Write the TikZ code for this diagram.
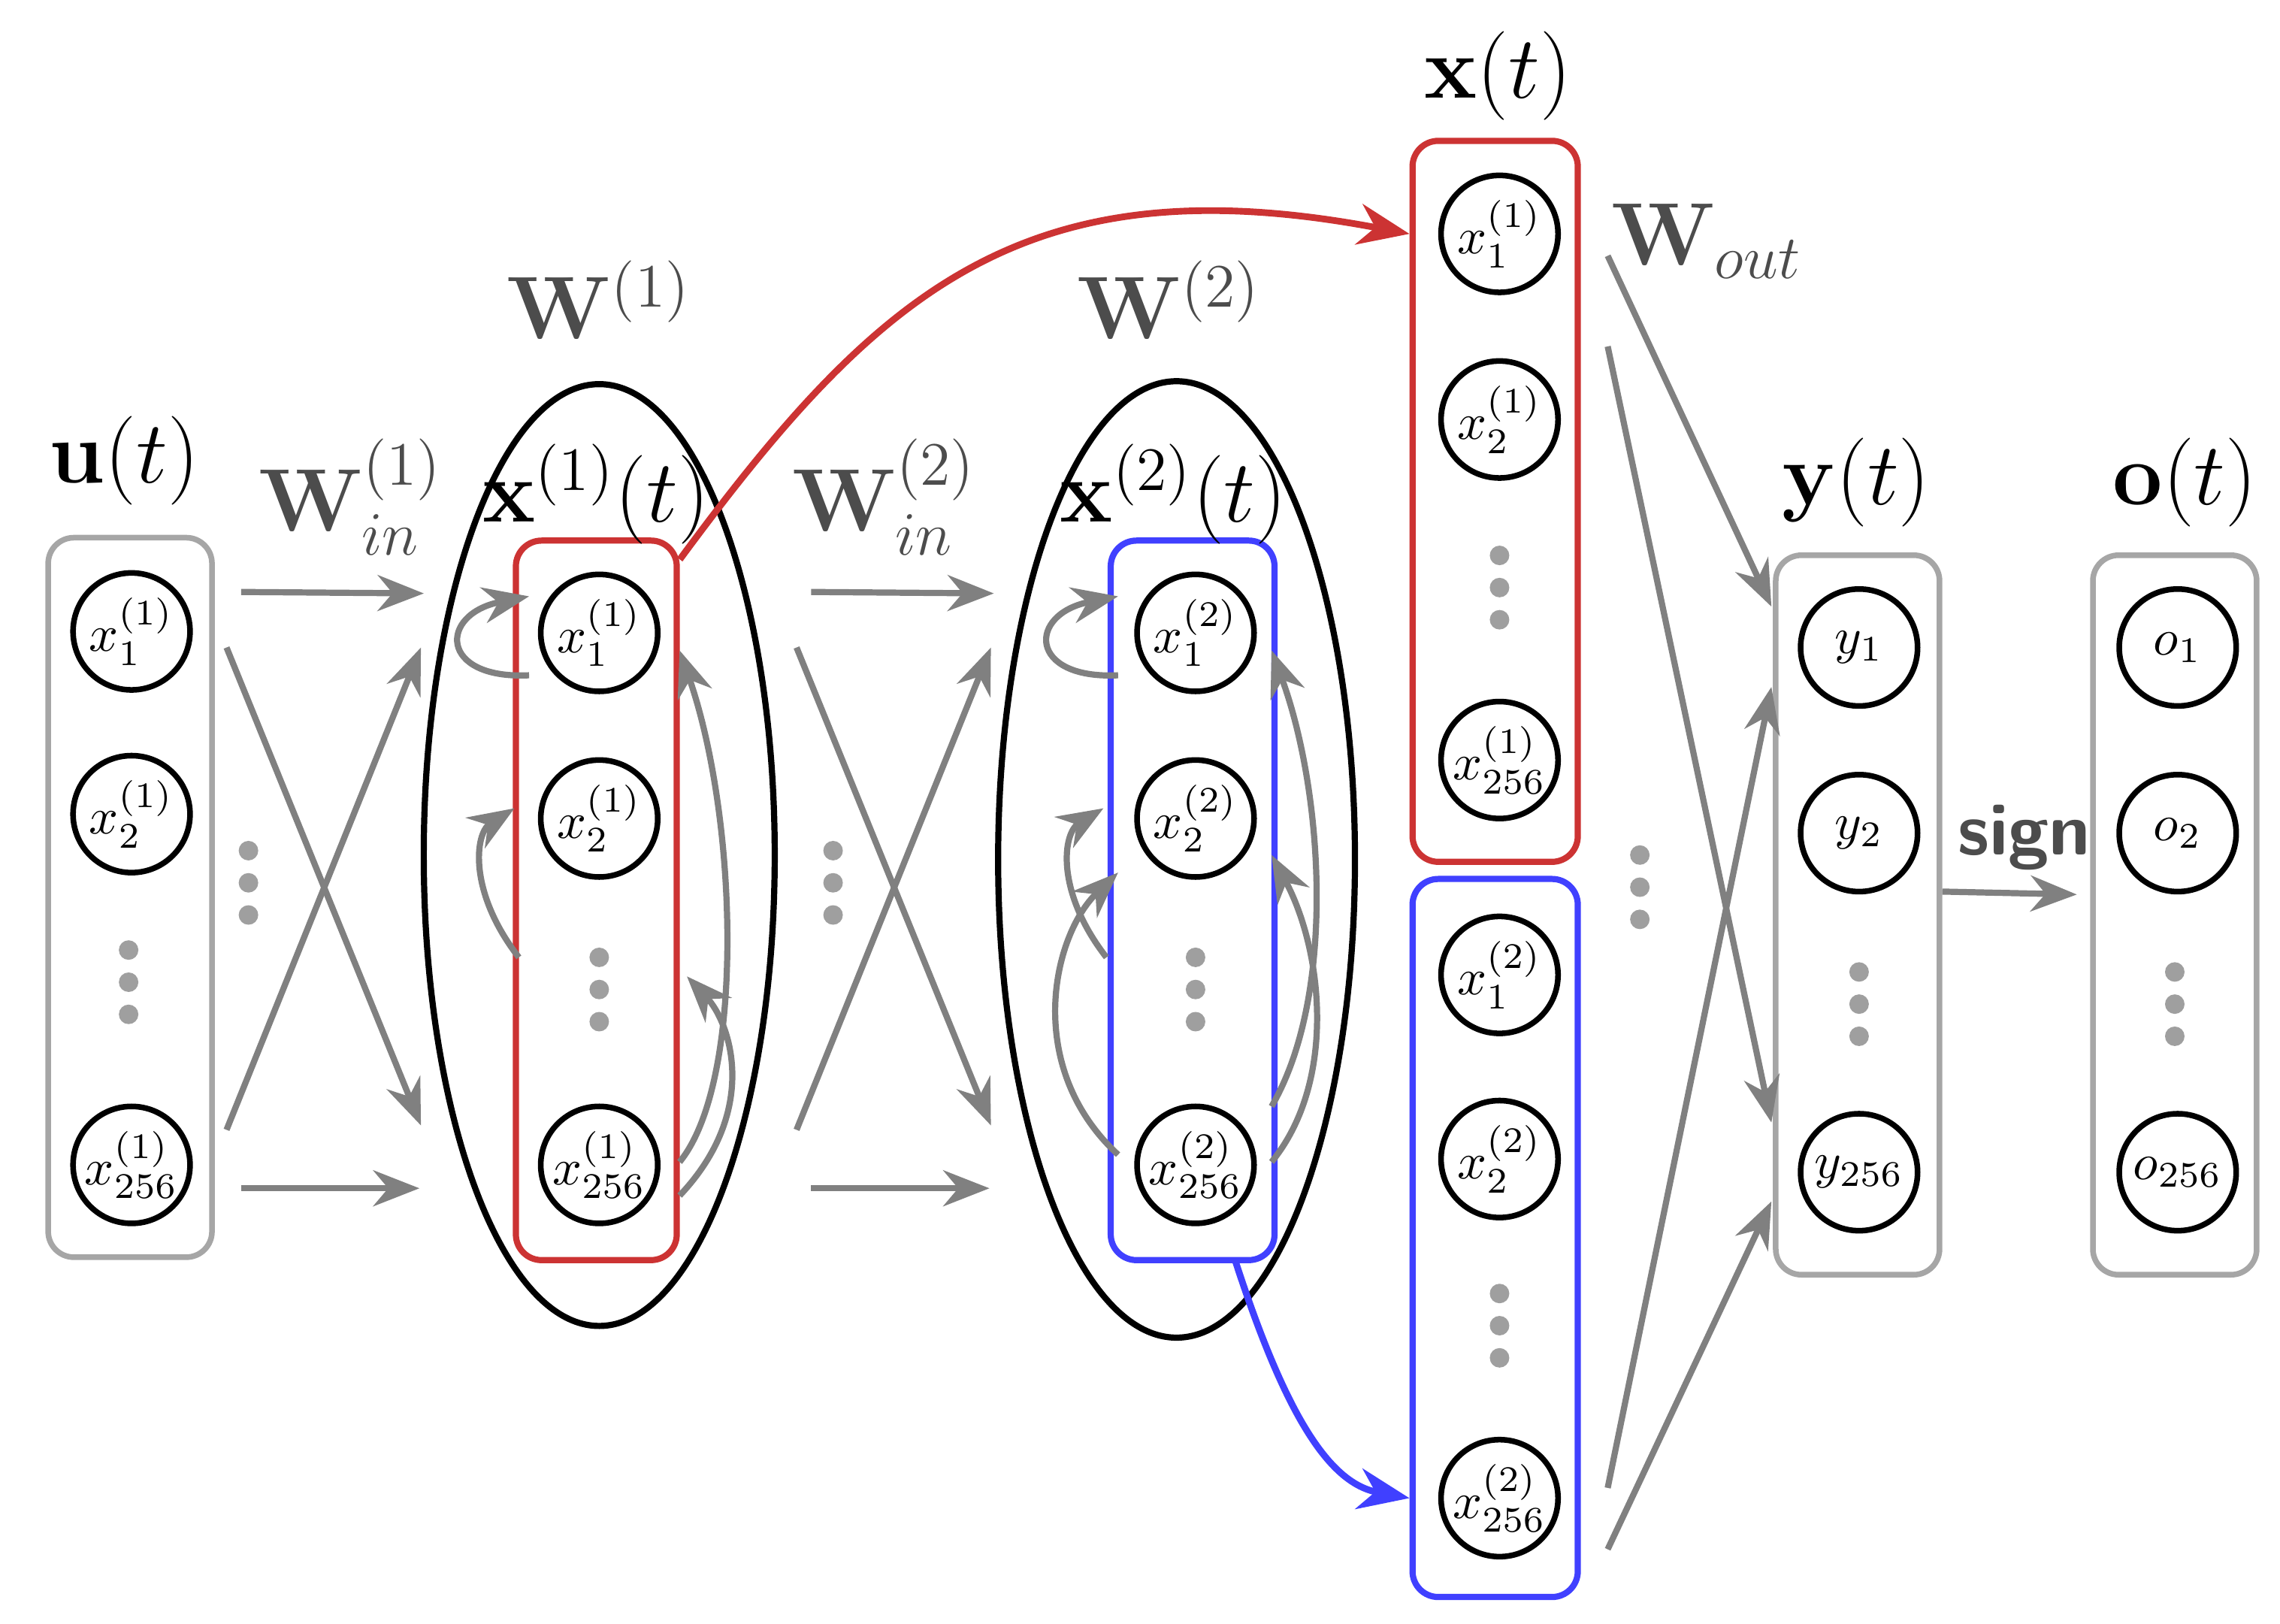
\documentclass[tikz,border=0pt]{standalone}
\usepackage{amsmath}
\usetikzlibrary{arrows.meta,shapes.geometric}
\tikzset{
  unit/.style={shape=circle,draw=black,line width=1.1pt,minimum size=0.8cm,inner sep=0pt,font=\normalsize},
  layerBox/.style={draw=gray!70,rounded corners=5pt,line width=1.1pt},
  redBox/.style={draw=red!75!black!80,rounded corners=5pt,line width=1.2pt},
  blueBox/.style={draw=blue!75,rounded corners=5pt,line width=1.2pt},
  reservoir/.style={draw=black,line width=1.2pt},
  weight/.style={->,>={Stealth[length=9pt,width=7pt]},draw=gray,line width=1.2pt},
  vdots/.style={fill=gray!75,circle,inner sep=0pt,minimum size=3.8pt},
  bigLabel/.style={font=\LARGE},
  wLabel/.style={font=\LARGE,text=black!70}
}
\begin{document}
\begin{tikzpicture}[x=0.01cm,y=-0.01cm]
        \useasboundingbox (0,0) rectangle (1560,1111);
        % reservoirs
        \node[reservoir,ellipse,draw,minimum width=2.4cm,minimum height=6.44cm] (res1) at (410,585) {};
        \node[reservoir,ellipse,draw,minimum width=2.44cm,minimum height=6.54cm] (res2) at (805,588) {};

        % boxes
        \node[layerBox,minimum width=1.12cm,minimum height=4.92cm] (ubox) at (89,614) {};
        \node[redBox,minimum width=1.1cm,minimum height=4.92cm] (x1box) at (408,616) {};
        \node[blueBox,minimum width=1.12cm,minimum height=4.92cm] (x2box) at (816,616) {};
        \node[redBox,minimum width=1.13cm,minimum height=4.93cm] (xr) at (1023,343) {};
        \node[blueBox,minimum width=1.13cm,minimum height=4.91cm] (xb) at (1023,847) {};
        \node[layerBox,minimum width=1.12cm,minimum height=4.92cm] (ybox) at (1271,626) {};
        \node[layerBox,minimum width=1.12cm,minimum height=4.92cm] (obox) at (1488,626) {};

        % input
        \node[unit] (u1) at (90,432) {$x^{(1)}_1$};
        \node[unit] (u2) at (90,557) {$x^{(1)}_2$};
        \node[unit] (u3) at (90,797) {$x^{(1)}_{256}$};
        % reservoir 1
        \node[unit] (a1) at (410,433) {$x^{(1)}_1$};
        \node[unit] (a2) at (410,560) {$x^{(1)}_2$};
        \node[unit] (a3) at (410,797) {$x^{(1)}_{256}$};
        % reservoir 2
        \node[unit] (b1) at (818,433) {$x^{(2)}_1$};
        \node[unit] (b2) at (818,560) {$x^{(2)}_2$};
        \node[unit] (b3) at (818,797) {$x^{(2)}_{256}$};
        % state
        \node[unit] (s1) at (1026,160) {$x^{(1)}_1$};
        \node[unit] (s2) at (1026,287) {$x^{(1)}_2$};
        \node[unit] (s3) at (1026,520) {$x^{(1)}_{256}$};
        \node[unit] (s4) at (1026,667) {$x^{(2)}_1$};
        \node[unit] (s5) at (1026,793) {$x^{(2)}_2$};
        \node[unit] (s6) at (1026,1025) {$x^{(2)}_{256}$};
        % output
        \node[unit] (y1) at (1272,443) {$y_1$};
        \node[unit] (y2) at (1272,570) {$y_2$};
        \node[unit] (y3) at (1272,802) {$y_{256}$};
        \node[unit] (o1) at (1490,443) {$o_1$};
        \node[unit] (o2) at (1490,570) {$o_2$};
        \node[unit] (o3) at (1490,802) {$o_{256}$};

        % dots
        \foreach \x/\y in {88/650,410/655,818/655,1026/380,1026/885,1272/665,1488/665,170/582,570/582,1122/585}
          \foreach \k in {0,1,2}
            \node[vdots] (d\x\y\k) at (\x,\y+22*\k) {};

        % labels
        \node[bigLabel] (lu) at (85,315) {$\mathbf{u}(t)$};
        \node[wLabel] (lwin1) at (240,340) {$\mathbf{W}^{(1)}_{in}$};
        \node[wLabel] (lw1) at (410,205) {$\mathbf{W}^{(1)}$};
        \node[bigLabel] (lx1) at (408,338) {$\mathbf{x}^{(1)}(t)$};
        \node[wLabel] (lwin2) at (605,340) {$\mathbf{W}^{(2)}_{in}$};
        \node[wLabel] (lw2) at (800,205) {$\mathbf{W}^{(2)}$};
        \node[bigLabel] (lx2) at (803,338) {$\mathbf{x}^{(2)}(t)$};
        \node[bigLabel] (lx) at (1025,52) {$\mathbf{x}(t)$};
        \node[wLabel] (lwout) at (1168,165) {$\mathbf{W}_{out}$};
        \node[bigLabel] (ly) at (1270,330) {$\mathbf{y}(t)$};
        \node[bigLabel] (lo) at (1495,330) {$\mathbf{o}(t)$};
        \node[font=\Large\sffamily\bfseries,text=black!70] (lsign) at (1385,573) {sign};

        % input weights
        \foreach \dx/\n in {0/1,390/2} {
          \coordinate (p\n a) at (165+\dx,405); \coordinate (q\n a) at (290+\dx,406);
          \coordinate (p\n b) at (165+\dx,813); \coordinate (q\n b) at (287+\dx,813);
          \coordinate (p\n c) at (155+\dx,443); \coordinate (q\n c) at (288+\dx,770);
          \coordinate (p\n d) at (155+\dx,773); \coordinate (q\n d) at (288+\dx,443);
          \draw[weight] (p\n a) -- (q\n a);
          \draw[weight] (p\n b) -- (q\n b);
          \draw[weight] (p\n c) -- (q\n c);
          \draw[weight] (p\n d) -- (q\n d);
        }

        % recurrent connections
        \draw[weight] (362,462) .. controls (300,465) and (300,420) .. (362,408);
        \draw[weight] (355,655) .. controls (320,610) and (325,570) .. (352,553);
        \draw[weight] (465,795) .. controls (510,740) and (505,560) .. (465,445);
        \draw[weight] (465,818) .. controls (520,760) and (500,700) .. (470,668);
        \draw[weight] (765,462) .. controls (703,465) and (703,420) .. (765,408);
        \draw[weight] (757,655) .. controls (722,610) and (727,570) .. (755,553);
        \draw[weight] (765,790) .. controls (700,730) and (720,640) .. (765,597);
        \draw[weight] (870,757) .. controls (915,680) and (905,540) .. (870,445);
        \draw[weight] (870,795) .. controls (915,740) and (905,650) .. (870,585);

        % collecting states
        \draw[->,>={Stealth[length=10pt,width=8pt]},draw=red!75!black!80,line width=1.3pt]
          (x1box.north east) ++(0,15) .. controls (600,200) and (700,110) .. (s1.west -| xr.west);
        \draw[->,>={Stealth[length=10pt,width=8pt]},draw=blue!75,line width=1.3pt]
          (845,862) .. controls (880,970) and (910,1015) .. (s6.west -| xb.west);

        % readout
        \coordinate (r1) at (1100,175);  \coordinate (t1) at (1212,415);
        \coordinate (r2) at (1100,237);  \coordinate (t2) at (1212,768);
        \coordinate (r3) at (1100,1018); \coordinate (t3) at (1212,470);
        \coordinate (r4) at (1100,1060); \coordinate (t4) at (1212,822);
        \draw[weight] (r1) -- (t1);
        \draw[weight] (r2) -- (t2);
        \draw[weight] (r3) -- (t3);
        \draw[weight] (r4) -- (t4);
        \draw[weight] (ybox.east |- 0,610) -- ++(92,2);
    \end{tikzpicture}
\end{document}
